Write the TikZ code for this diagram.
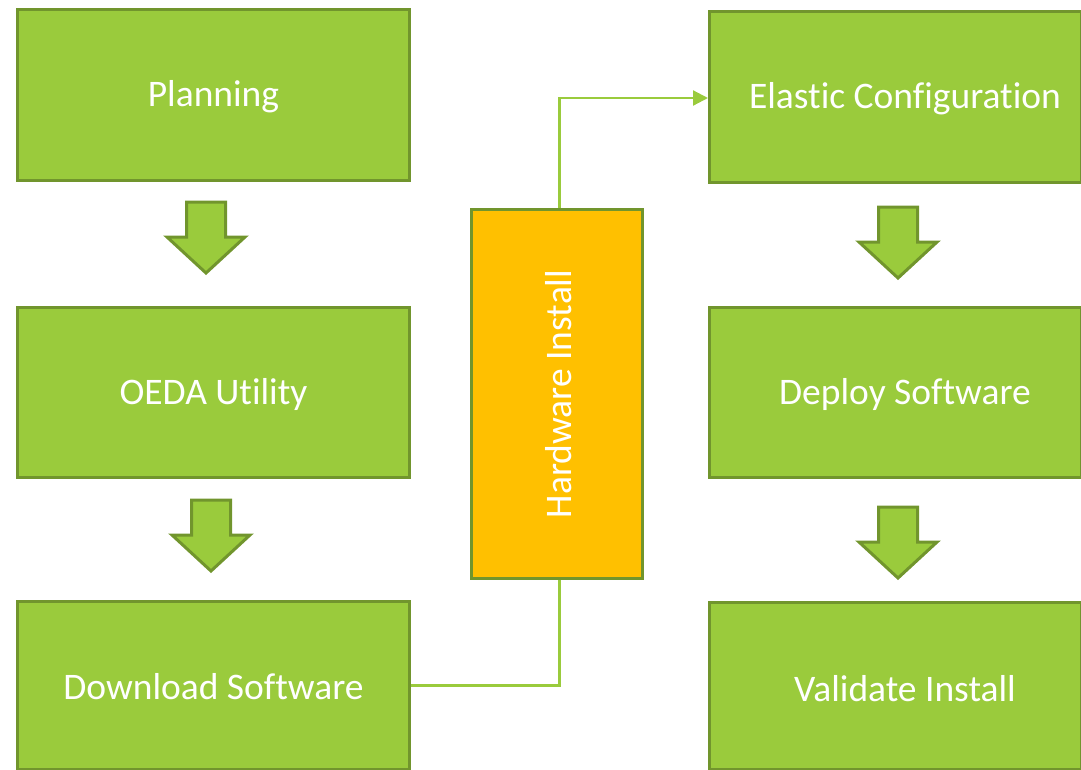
\documentclass[tikz,border=0pt]{standalone}
\usepackage{fontspec}
\setmainfont{Carlito}[Ligatures={NoCommon}]
\usetikzlibrary{arrows.meta,calc}
\definecolor{leaf}{HTML}{9ACB3C}
\definecolor{leafedge}{HTML}{71952D}
\definecolor{amber}{HTML}{FFC000}
\tikzset{
  box/.style={draw=leafedge, line width=3pt, fill=leaf, inner sep=0pt, anchor=north west},
  lbl/.style={text=white, font=\fontsize{37.5}{42}\selectfont, inner sep=0pt},
  conn/.style={draw=leaf, line width=2.2pt},
  blockarrow/.style={draw=leafedge, line width=3pt, fill=leaf, line join=miter},
}
% downward block arrow: #1 = centre x, #2 = top y
\newcommand\downblock[2]{%
  \draw[blockarrow] (#1-19.5,#2) -- (#1+19.5,#2) -- (#1+19.5,#2+35) -- (#1+39,#2+35)
    -- (#1,#2+71) -- (#1-39,#2+35) -- (#1-19.5,#2+35) -- cycle;}
\begin{document}
\begin{tikzpicture}[x=1pt,y=-1pt]
\useasboundingbox (0,0) rectangle (1081,769);

% left column
\node[box, minimum width=392pt, minimum height=171pt] (plan) at (16,8) {};
\node[lbl] at ([yshift=-2pt]plan.center) {Planning};
\node[box, minimum width=392pt, minimum height=170pt] (oeda) at (16,306) {};
\node[lbl] at ([yshift=-2pt]oeda.center) {OEDA Utility};
\node[box, minimum width=392pt, minimum height=168pt] (down) at (16,600) {};
\node[lbl] at ([yshift=-1pt]down.center) {Download Software};

% hardware stage
\node[box, fill=amber, minimum width=171pt, minimum height=369pt] (hw) at (470,208) {};
\node[lbl, rotate=90] at ([xshift=1.5pt]hw.center) {Hardware Install};

% right column
\node[box, minimum width=372pt, minimum height=171pt] (elastic) at (708,10) {};
\node[lbl] at ([xshift=9.5pt,yshift=-2pt]elastic.center) {Elastic Configuration};
\node[box, minimum width=372pt, minimum height=170pt] (deploy) at (708,306) {};
\node[lbl] at ([xshift=9.5pt,yshift=-2pt]deploy.center) {Deploy Software};
\node[box, minimum width=372pt, minimum height=167pt] (valid) at (708,601) {};
\node[lbl] at ([xshift=9.5pt,yshift=-3pt]valid.center) {Validate Install};

% block arrows between stages
\downblock{206}{202}
\downblock{211}{500}
\downblock{898}{207}
\downblock{898}{507}

% connectors through the hardware stage
\coordinate (hwbot) at ([xshift=2.5pt]hw.south);
\coordinate (hwtop) at ([xshift=2.5pt]hw.north);
\draw[conn] (down.east) -| (hwbot);
\draw[conn, -{Triangle[length=15pt,width=15pt]}] (hwtop) |- ([yshift=-1pt]elastic.west);
\end{tikzpicture}
\end{document}
